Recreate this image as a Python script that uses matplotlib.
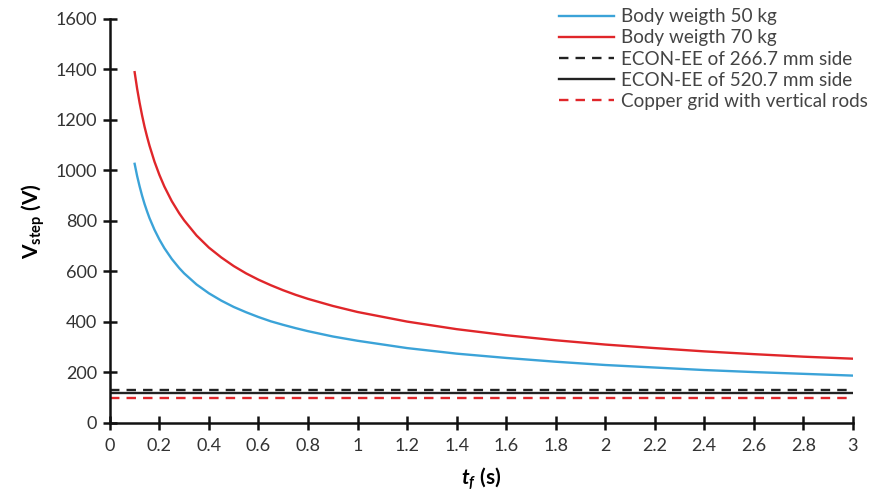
import matplotlib
matplotlib.use("Agg")
import matplotlib.pyplot as plt

plt.rcParams['font.family'] = ['Lato', 'DejaVu Sans']
plt.rcParams['mathtext.fontset'] = 'custom'
plt.rcParams['mathtext.rm'] = 'Lato'
plt.rcParams['mathtext.it'] = 'Lato:italic'
plt.rcParams['mathtext.bf'] = 'Lato:bold'
plt.rcParams['mathtext.bfit'] = 'Lato:bold:italic'

# Fault duration (s)
t_f = [0.1, 0.11, 0.12, 0.13, 0.14, 0.15, 0.16, 0.18, 0.2, 0.22, 0.25, 0.28, 0.3,
       0.35, 0.4, 0.45, 0.5, 0.55, 0.6, 0.65, 0.7, 0.75, 0.8, 0.9,
       1.0, 1.2, 1.4, 1.6, 1.8, 2.0, 2.2, 2.4, 2.6, 2.8, 3.0]
# Tolerable step voltage (V)
v_50kg = [1026, 978, 937, 900, 867, 838, 811, 765, 726, 692, 649, 613, 592,
          548, 513, 484, 459, 438, 419, 402, 388, 375, 363, 342,
          325, 296, 274, 257, 242, 229, 219, 209, 201, 194, 187]
v_70kg = [1389, 1324, 1268, 1218, 1173, 1134, 1098, 1035, 982, 936, 878, 830, 802,
          742, 694, 655, 621, 592, 567, 545, 525, 507, 491, 463,
          439, 401, 371, 347, 327, 310, 296, 283, 272, 262, 254]
# Calculated step voltages of the grounding systems (V)
econ_266 = 131
econ_520 = 117
copper_grid = 100

x_ticks = [0, 0.2, 0.4, 0.6, 0.8, 1, 1.2, 1.4, 1.6, 1.8, 2, 2.2, 2.4, 2.6, 2.8, 3]
x_tick_labels = ['0', '0.2', '0.4', '0.6', '0.8', '1', '1.2', '1.4', '1.6', '1.8',
                 '2', '2.2', '2.4', '2.6', '2.8', '3']
y_ticks = [0, 200, 400, 600, 800, 1000, 1200, 1400, 1600]

fig = plt.figure(figsize=(8.72, 4.98), dpi=100)
ax = fig.add_axes([0.126, 0.151, 0.852, 0.811])

blue = '#3BA3D8'
red = '#E0262A'
ax.plot(t_f, v_50kg, color=blue, lw=1.7, label='Body weigth 50 kg')
ax.plot(t_f, v_70kg, color=red, lw=1.7, label='Body weigth 70 kg')
ax.plot([0, 3], [econ_266, econ_266], color='#222222', lw=1.7, ls=(0, (4, 3)),
        label='ECON-EE of 266.7 mm side')
ax.plot([0, 3], [econ_520, econ_520], color='#222222', lw=1.7,
        label='ECON-EE of 520.7 mm side')
ax.plot([0, 3], [copper_grid, copper_grid], color=red, lw=1.7, ls=(0, (4, 3)),
        label='Copper grid with vertical rods')

ax.set_xlim(0, 3)
ax.set_ylim(0, 1600)
ax.set_xticks(x_ticks)
ax.set_xticklabels(x_tick_labels)
ax.set_yticks(y_ticks)
for s in ['top', 'right']:
    ax.spines[s].set_visible(False)
for s in ['left', 'bottom']:
    ax.spines[s].set_linewidth(1.8)
    ax.spines[s].set_color('#111111')
ax.tick_params(direction='inout', length=10, width=1.8, colors='#111111',
               labelsize=13, labelcolor='#333333', pad=4)
ax.tick_params(axis='x', pad=6)

ax.set_ylabel(r'$\mathbf{V_{step}}$ (V)', fontsize=15, fontweight='bold', labelpad=6)
ax.set_xlabel(r'$\mathbfit{t_f}$ (s)', fontsize=15, fontweight='bold', labelpad=8)

leg = ax.legend(loc='upper right', bbox_to_anchor=(1.03, 1.045), frameon=False,
                fontsize=13.6, handlelength=2.9, handletextpad=0.35, labelspacing=0.22,
                borderaxespad=0)
for txt in leg.get_texts():
    txt.set_color('#444444')

fig.savefig('out.png', dpi=100)
